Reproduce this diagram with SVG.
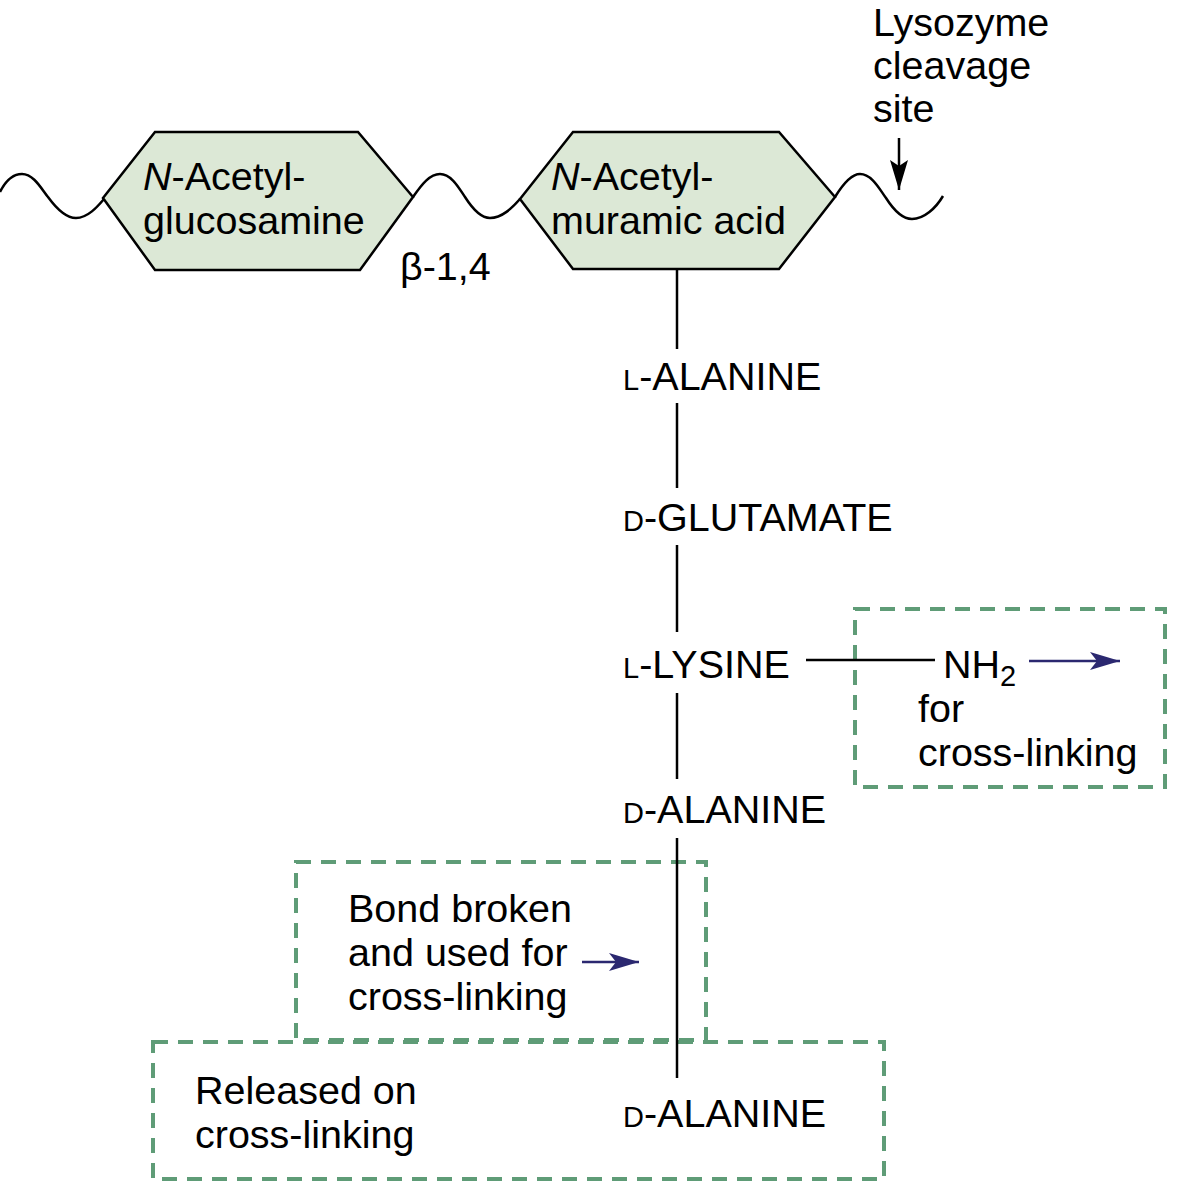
<svg xmlns="http://www.w3.org/2000/svg" width="1185" height="1194" viewBox="0 0 1185 1194">
<style>
text{font-family:"Liberation Sans",Arial,Helvetica,sans-serif;font-size:39.5px;fill:#000}
.sc{font-size:29px}
.hex{fill:#dce8d6;stroke:#000;stroke-width:2.5;stroke-linejoin:miter}
.wave{fill:none;stroke:#000;stroke-width:2.5}
.bond{stroke:#000;stroke-width:2.5;fill:none}
.dash{fill:none;stroke:#5f9c77;stroke-width:4;stroke-dasharray:15 10}
.blue{stroke:#2b2870;stroke-width:2.5;fill:none}
</style>
<defs>
<marker id="ab" viewBox="0 0 30 20" refX="30" refY="10" markerWidth="30" markerHeight="20" markerUnits="userSpaceOnUse" orient="auto">
<path d="M0,1 L30,10 L0,19 L7,10 Z" fill="#2b2870"/>
</marker>
<marker id="ak" viewBox="0 0 30 20" refX="30" refY="10" markerWidth="30" markerHeight="20" markerUnits="userSpaceOnUse" orient="auto">
<path d="M0,1 L30,10 L0,19 L6,10 Z" fill="#000"/>
</marker>
</defs>
<g id="boxes">
<rect id="box-crosslink" class="dash" x="855" y="609" width="310" height="178"/>
<rect id="box-bond" class="dash" x="296" y="862" width="410" height="178"/>
<rect id="box-released" class="dash" x="153" y="1042" width="731" height="137"/>
</g>
<g id="connectors">
<path class="wave" d="M0,192 C6,180 14,174 22,174 C34,174 42,190 48,197 C56,208 66,218 76,218 C88,218 98,206 104,199"/>
<path class="wave" d="M413,197 C422,184 430,174 440,174 C452,174 460,190 465,197 C472,208 480,218 490,218 C502,218 512,208 520,199"/>
<path class="wave" d="M835,197 C843,184 851,174 860,174 C872,174 880,190 886,198 C893,209 902,219 912,219 C924,219 936,208 943,196"/>
<line class="bond" x1="677" y1="270" x2="677" y2="349"/>
<line class="bond" x1="677" y1="403" x2="677" y2="488"/>
<line class="bond" x1="677" y1="545" x2="677" y2="632"/>
<line class="bond" x1="677" y1="693" x2="677" y2="779"/>
<line class="bond" x1="677" y1="838" x2="677" y2="1078"/>
<line class="bond" x1="806" y1="660" x2="935" y2="660"/>
<line class="bond" x1="899" y1="138" x2="899" y2="190" marker-end="url(#ak)"/>
<line class="blue" x1="1029" y1="661" x2="1120" y2="661" marker-end="url(#ab)"/>
<line class="blue" x1="582" y1="962" x2="639" y2="962" marker-end="url(#ab)"/>
</g>
<g id="nag">
<polygon class="hex" points="103,198 155,132 358,132 413,197 360,270 155,270"/>
<text x="143" y="190"><tspan font-style="italic">N</tspan>-Acetyl-</text>
<text x="143" y="234">glucosamine</text>
</g>
<g id="nam">
<polygon class="hex" points="520,199 573,132 779,132 835,197 779,269 573,269"/>
<text x="551" y="190"><tspan font-style="italic">N</tspan>-Acetyl-</text>
<text x="551" y="234">muramic acid</text>
</g>
<g id="beta">
<text x="400" y="280">β-1,4</text>
</g>
<g id="lysozyme">
<text x="873" y="36">Lysozyme</text>
<text x="873" y="79">cleavage</text>
<text x="873" y="122">site</text>
</g>
<g id="l-alanine"><text x="623" y="390"><tspan class="sc">L</tspan>-ALANINE</text></g>
<g id="d-glutamate"><text x="623" y="531"><tspan class="sc">D</tspan>-GLUTAMATE</text></g>
<g id="l-lysine"><text x="623" y="678"><tspan class="sc">L</tspan>-LYSINE</text></g>
<g id="d-alanine-1"><text x="623" y="823"><tspan class="sc">D</tspan>-ALANINE</text></g>
<g id="d-alanine-2"><text x="623" y="1127"><tspan class="sc">D</tspan>-ALANINE</text></g>
<g id="nh2">
<text x="943" y="678">NH<tspan class="sc" dy="8">2</tspan></text>
<text x="918" y="722">for</text>
<text x="918" y="766">cross-linking</text>
</g>
<g id="bond-label">
<text x="348" y="922">Bond broken</text>
<text x="348" y="966">and used for</text>
<text x="348" y="1010">cross-linking</text>
</g>
<g id="released-label">
<text x="195" y="1104">Released on</text>
<text x="195" y="1148">cross-linking</text>
</g>
</svg>
